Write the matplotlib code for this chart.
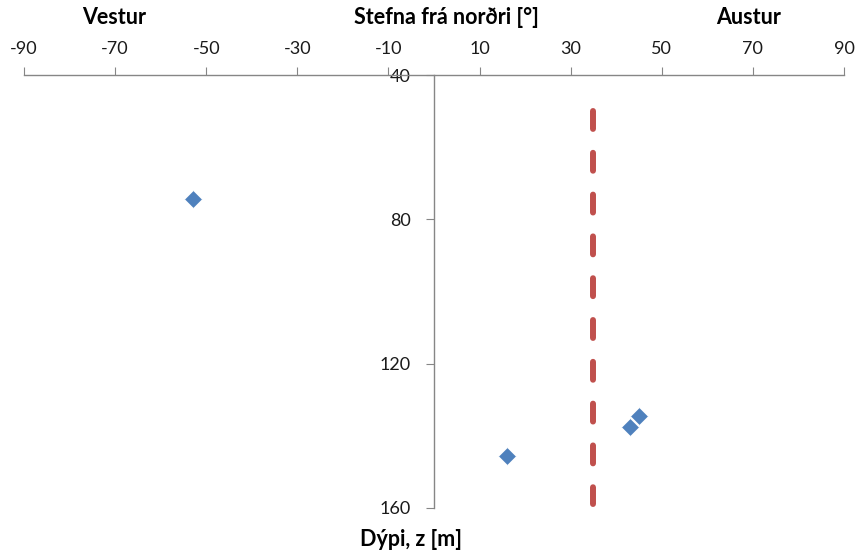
import matplotlib
matplotlib.use("Agg")
import matplotlib.pyplot as plt

plt.rcParams['font.family'] = ['Lato', 'DejaVu Sans']
plt.rcParams['axes.unicode_minus'] = False

# Data
direction = [-52.8, 16.0, 43.0, 45.0]
depth = [74.4, 145.6, 137.5, 134.4]
mean_dir = [35, 35]
mean_depth = [50, 159]
x_ticks = list(range(-90, 91, 20))
y_ticks = [40, 80, 120, 160]

fig = plt.figure(figsize=(8.57, 5.56), dpi=100)
ax = fig.add_axes([24/857, 1-508/556, (844-24)/857, (508-75)/556])

ax.plot(direction, depth, linestyle='none', marker='D', markersize=9.3,
        color='#4F81BD', markeredgecolor='white', markeredgewidth=0.6, zorder=3)
line, = ax.plot(mean_dir, mean_depth, color='#C0504D', linewidth=4.3,
                dash_capstyle='round', zorder=2)
line.set_dashes((3, 4))

ax.set_xlim(-90, 90)
ax.set_ylim(160, 40)
ax.set_xticks(x_ticks)
ax.set_yticks(y_ticks)

ax.xaxis.tick_top()
ax.spines['bottom'].set_visible(False)
ax.spines['right'].set_visible(False)
ax.spines['left'].set_position(('data', 0))
for s in ('top', 'left'):
    ax.spines[s].set_color('#868686')
    ax.spines[s].set_linewidth(1.0)
ax.tick_params(axis='x', direction='out', length=6, color='#868686', pad=7,
               labelsize=13, labelcolor='#1a1a1a')
ax.tick_params(axis='y', direction='out', length=6, color='#868686', pad=11,
               labelsize=13, labelcolor='#1a1a1a')

fig.text(114/857, 1-18/556, 'Vestur', ha='center', va='center', fontsize=15.5, fontweight='bold')
fig.text(446/857, 1-18/556, 'Stefna frá norðri [°]', ha='center', va='center', fontsize=15.5, fontweight='bold')
fig.text(749/857, 1-18/556, 'Austur', ha='center', va='center', fontsize=15.5, fontweight='bold')
fig.text(411/857, 1-540/556, 'Dýpi, z [m]', ha='center', va='center', fontsize=15.5, fontweight='bold')

fig.savefig('out.png', dpi=100)
